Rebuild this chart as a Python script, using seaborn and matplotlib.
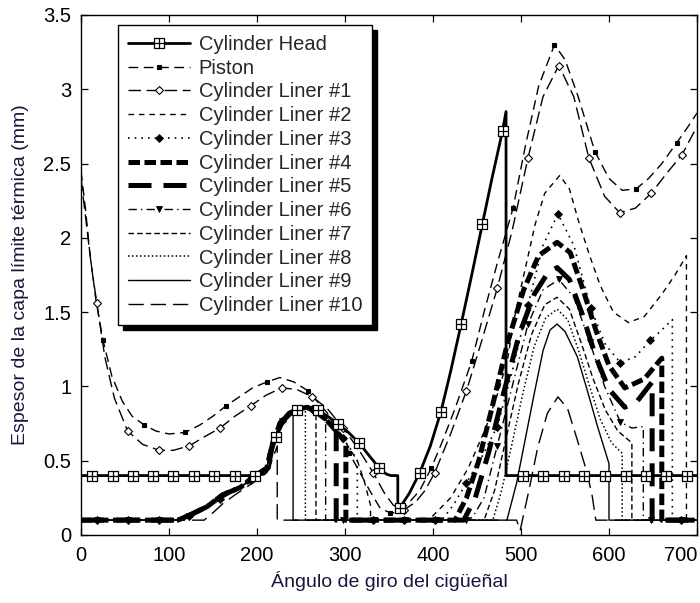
import numpy as np
import matplotlib
matplotlib.use("Agg")
import matplotlib.pyplot as plt
from matplotlib.path import Path
import seaborn as sns

# ---------------- data ----------------
x_ticks = [0, 100, 200, 300, 400, 500, 600, 700]
y_ticks = [0, 0.5, 1, 1.5, 2, 2.5, 3, 3.5]
y_tick_labels = ["0", "0.5", "1", "1.5", "2", "2.5", "3", "3.5"]

head_x = [0, 13, 36, 59, 82, 105, 128, 151, 175, 198,
          208, 214, 218, 222, 230, 238, 245, 257, 269, 280, 292, 304, 316, 328,
          339, 347, 352, 360, 360, 362, 373, 385, 397, 409, 420, 432, 444, 456,
          467, 479, 483, 483,
          502, 525, 549, 572, 595, 619, 642, 665, 689, 700]
head_y = [0.4, 0.4, 0.4, 0.4, 0.4, 0.4, 0.4, 0.4, 0.4, 0.4,
          0.41, 0.45, 0.58, 0.66, 0.76, 0.81, 0.84, 0.86, 0.84, 0.80, 0.75, 0.69, 0.62, 0.53,
          0.45, 0.41, 0.40, 0.40, 0.17, 0.18, 0.28, 0.42, 0.6, 0.83, 1.1, 1.42, 1.75, 2.09,
          2.4, 2.72, 2.85, 0.4,
          0.4, 0.4, 0.4, 0.4, 0.4, 0.4, 0.4, 0.4, 0.4, 0.4]
head_markers_at = [13, 36, 59, 82, 105, 128, 151, 175, 198, 222, 245, 269, 292, 316,
                   339, 362, 385, 409, 432, 456, 479, 502, 525, 549, 572, 595, 619,
                   642, 665, 689]

piston_x = [0, 5, 10, 17, 25, 35, 47, 58, 72, 85, 100, 118, 135, 150, 165, 180, 195,
            211, 226, 242, 258, 280, 305, 328, 340, 351, 360, 370, 385, 398, 410, 425,
            444, 458, 474, 491, 505, 520, 538, 550, 565, 584, 600, 615, 631, 645, 660,
            677, 690, 700]
piston_y = [2.45, 2.2, 1.9, 1.58, 1.31, 1.07, 0.9, 0.8, 0.74, 0.70, 0.68, 0.69, 0.74,
            0.8, 0.87, 0.93, 0.99, 1.03, 1.06, 1.03, 0.97, 0.82, 0.55, 0.3, 0.18, 0.15,
            0.15, 0.2, 0.3, 0.45, 0.62, 0.85, 1.17, 1.5, 1.85, 2.2, 2.62, 3.02, 3.30,
            3.2, 2.95, 2.58, 2.4, 2.32, 2.33, 2.4, 2.5, 2.64, 2.75, 2.84]
piston_markers_at = [25, 72, 118, 165, 211, 258, 305, 351, 398, 444, 491, 538, 584,
                     631, 677]

liner1_x = [0, 6, 12, 18, 27, 38, 53, 70, 89, 105, 123, 140, 158, 175, 193, 210, 228,
            245, 263, 280, 298, 315, 332, 345, 355, 367, 380, 391, 402, 420, 438, 455,
            473, 490, 508, 525, 543, 560, 577, 595, 612, 630, 648, 665, 683, 700]
liner1_y = [2.4, 2.1, 1.8, 1.56, 1.2, 0.92, 0.7, 0.61, 0.57, 0.57, 0.6, 0.66, 0.72,
            0.8, 0.87, 0.94, 0.99, 0.98, 0.93, 0.85, 0.72, 0.58, 0.42, 0.28, 0.2, 0.17,
            0.22, 0.3, 0.42, 0.68, 0.97, 1.3, 1.66, 2.05, 2.54, 2.95, 3.16, 2.95, 2.54,
            2.28, 2.17, 2.2, 2.3, 2.43, 2.56, 2.75]
liner1_markers_at = [18, 53, 89, 123, 158, 193, 228, 263, 298, 332, 367, 402, 438,
                     473, 508, 543, 577, 612, 648, 683]

liner2_x = [0, 110, 124, 143, 161, 181, 196, 211, 218, 226, 237, 249, 257, 267, 278,
            290, 301, 314, 322, 329, 329, 395, 420, 440, 460, 475, 485, 491, 499, 507,
            516, 527, 544, 555, 565, 578, 590, 605, 622, 640, 660, 675, 688, 688, 700]
liner2_y = [0.1, 0.1, 0.135, 0.19, 0.27, 0.32, 0.39, 0.45, 0.62, 0.75, 0.82, 0.85, 0.86,
            0.83, 0.78, 0.7, 0.62, 0.5, 0.36, 0.2, 0.1, 0.1, 0.25, 0.45, 0.72, 0.98,
            1.19, 1.42, 1.64, 1.85, 2.09, 2.3, 2.42, 2.33, 2.12, 1.88, 1.68, 1.5, 1.43,
            1.47, 1.62, 1.75, 1.88, 0.1, 0.1]

liner3_x = [0, 18, 53, 89, 110, 123, 143, 158, 181, 193, 211, 218, 228, 237, 249, 257,
            263, 278, 290, 298, 306, 314, 314, 332, 367, 402, 410, 423, 438, 455, 473,
            490, 508, 525, 542, 560, 579, 596, 613, 630, 647, 660, 672, 672, 682, 700]
liner3_y = [0.1, 0.1, 0.1, 0.1, 0.1, 0.13, 0.19, 0.24, 0.32, 0.37, 0.45, 0.62, 0.77,
            0.82, 0.85, 0.86, 0.85, 0.78, 0.7, 0.65, 0.58, 0.5, 0.1, 0.1, 0.1, 0.1, 0.1,
            0.2, 0.35, 0.52, 0.73, 1.1, 1.55, 1.95, 2.16, 1.95, 1.53, 1.28, 1.16, 1.2,
            1.31, 1.38, 1.45, 0.1, 0.1, 0.1]
liner3_markers_at = [18, 53, 89, 123, 158, 193, 228, 263, 298, 332, 367, 402, 438, 473,
                     508, 542, 579, 613, 647, 682]

liner4_x = [0, 110, 124, 143, 161, 181, 196, 211, 218, 226, 237, 249, 257, 267, 278,
            290, 301, 301, 425, 438, 452, 468, 485, 503, 520, 541, 556, 570, 585, 600,
            618, 640, 660, 660, 700]
liner4_y = [0.1, 0.1, 0.135, 0.19, 0.27, 0.32, 0.39, 0.45, 0.62, 0.75, 0.82, 0.85, 0.86,
            0.83, 0.78, 0.7, 0.62, 0.1, 0.1, 0.25, 0.5, 0.88, 1.3, 1.65, 1.88, 1.97, 1.9,
            1.66, 1.38, 1.14, 0.99, 1.05, 1.19, 0.1, 0.1]

liner5_x = [0, 110, 124, 143, 161, 181, 196, 211, 218, 226, 237, 249, 257, 267, 278,
            290, 290, 435, 448, 463, 480, 498, 515, 530, 541, 555, 570, 585, 600, 618,
            632, 649, 649, 700]
liner5_y = [0.1, 0.1, 0.135, 0.19, 0.27, 0.32, 0.39, 0.45, 0.62, 0.75, 0.82, 0.85, 0.86,
            0.83, 0.78, 0.7, 0.1, 0.1, 0.25, 0.55, 0.95, 1.35, 1.62, 1.76, 1.8, 1.72,
            1.48, 1.2, 0.98, 0.86, 0.9, 1.03, 0.1, 0.1]

liner6_x = [0, 18, 53, 89, 110, 123, 143, 158, 181, 193, 211, 218, 228, 237, 249, 257,
            263, 270, 278, 278, 298, 333, 368, 403, 438, 445, 458, 473, 490, 508, 525,
            543, 560, 578, 595, 613, 626, 639, 639, 648, 683, 700]
liner6_y = [0.1, 0.1, 0.1, 0.1, 0.1, 0.13, 0.19, 0.24, 0.32, 0.37, 0.45, 0.62, 0.77,
            0.82, 0.85, 0.86, 0.85, 0.82, 0.78, 0.1, 0.1, 0.1, 0.1, 0.1, 0.1, 0.12, 0.25,
            0.6, 1.0, 1.42, 1.65, 1.72, 1.6, 1.3, 1.0, 0.76, 0.72, 0.73, 0.1, 0.1, 0.1,
            0.1]
liner6_markers_at = [18, 53, 89, 123, 158, 193, 228, 263, 298, 333, 368, 403, 438, 473,
                     508, 543, 578, 613, 648, 683]

liner7_x = [0, 110, 124, 143, 161, 181, 196, 211, 218, 226, 237, 249, 257, 267, 267,
            458, 470, 483, 497, 512, 527, 541, 555, 568, 582, 596, 610, 626, 626, 700]
liner7_y = [0.1, 0.1, 0.135, 0.19, 0.27, 0.32, 0.39, 0.45, 0.62, 0.75, 0.82, 0.85, 0.86,
            0.83, 0.1, 0.1, 0.3, 0.65, 1.02, 1.35, 1.55, 1.6, 1.52, 1.3, 1.05, 0.84, 0.7,
            0.62, 0.1, 0.1]

liner8_x = [0, 110, 124, 143, 161, 181, 196, 211, 218, 226, 237, 249, 255, 255, 468,
            478, 490, 502, 515, 528, 541, 553, 565, 578, 590, 603, 615, 615, 700]
liner8_y = [0.1, 0.1, 0.135, 0.19, 0.27, 0.32, 0.39, 0.45, 0.62, 0.75, 0.82, 0.85, 0.86,
            0.1, 0.1, 0.3, 0.62, 0.95, 1.27, 1.46, 1.52, 1.45, 1.25, 1.0, 0.78, 0.62,
            0.55, 0.1, 0.1]

liner9_x = [0, 110, 124, 143, 161, 181, 196, 211, 218, 226, 234, 241, 241, 484, 495,
            505, 515, 525, 533, 541, 550, 564, 575, 587, 600, 600, 700]
liner9_y = [0.1, 0.1, 0.135, 0.19, 0.27, 0.32, 0.39, 0.45, 0.62, 0.75, 0.8, 0.82, 0.1,
            0.1, 0.35, 0.65, 0.95, 1.24, 1.38, 1.42, 1.37, 1.2, 0.98, 0.73, 0.48, 0.1,
            0.1]

liner10_x = [0, 140, 150, 161, 175, 190, 200, 211, 217, 223, 223, 495, 499, 509, 519,
             530, 542, 553, 565, 575, 581, 585, 700]
liner10_y = [0.1, 0.1, 0.15, 0.21, 0.27, 0.33, 0.37, 0.42, 0.5, 0.6, 0.1, 0.1, 0.03,
             0.3, 0.59, 0.82, 0.93, 0.85, 0.62, 0.42, 0.26, 0.1, 0.1]

labels = ["Cylinder Head", "Piston", "Cylinder Liner #1", "Cylinder Liner #2",
          "Cylinder Liner #3", "Cylinder Liner #4", "Cylinder Liner #5",
          "Cylinder Liner #6", "Cylinder Liner #7", "Cylinder Liner #8",
          "Cylinder Liner #9", "Cylinder Liner #10"]

# ---------------- style ----------------
sns.set_theme(style="white")
plt.rcParams["font.family"] = ["Liberation Sans", "DejaVu Sans"]
plt.rcParams.update({
    "xtick.direction": "in", "ytick.direction": "in",
    "xtick.top": True, "ytick.right": True,
    "xtick.bottom": True, "ytick.left": True,
    "xtick.major.size": 5, "ytick.major.size": 5,
    "xtick.major.width": 0.9, "ytick.major.width": 0.9,
    "xtick.color": "black", "ytick.color": "black",
    "axes.edgecolor": "black", "axes.linewidth": 1.0,
})

# square-with-cross marker
box_plus = Path(
    [(-1, -1), (1, -1), (1, 1), (-1, 1), (-1, -1), (0, -1), (0, 1), (-1, 0), (1, 0)],
    [Path.MOVETO, Path.LINETO, Path.LINETO, Path.LINETO, Path.CLOSEPOLY,
     Path.MOVETO, Path.LINETO, Path.MOVETO, Path.LINETO])

series = [
    (head_x, head_y, dict(lw=2.0, ls="-", marker=box_plus, ms=7, mfc="white",
                           mew=0.9), head_markers_at, 10),
    (piston_x, piston_y, dict(lw=1.0, ls=(0, (7, 4)), marker="s", ms=3.2, mfc="black",
                               mew=0.8), piston_markers_at, 8),
    (liner1_x, liner1_y, dict(lw=1.0, ls=(0, (9, 4)), marker="D", ms=4, mfc="white",
                               mew=0.8), liner1_markers_at, 8),
    (liner2_x, liner2_y, dict(lw=1.0, ls=(0, (4, 3.5))), None, 5),
    (liner3_x, liner3_y, dict(lw=1.2, ls=(0, (1, 3)), marker="D", ms=4.5, mfc="black",
                               mew=0.6), liner3_markers_at, 5),
    (liner4_x, liner4_y, dict(lw=3.6, ls=(0, (2.3, 0.9))), None, 5),
    (liner5_x, liner5_y, dict(lw=3.6, ls=(0, (4.6, 2.4))), None, 5),
    (liner6_x, liner6_y, dict(lw=1.0, ls=(0, (6, 3, 1, 3)), marker="v", ms=5,
                               mfc="black", mew=0.6), liner6_markers_at, 5),
    (liner7_x, liner7_y, dict(lw=1.0, ls=(0, (4, 2.2))), None, 5),
    (liner8_x, liner8_y, dict(lw=1.1, ls=(0, (1, 1.6))), None, 5),
    (liner9_x, liner9_y, dict(lw=1.0, ls="-"), None, 5),
    (liner10_x, liner10_y, dict(lw=1.0, ls=(0, (11, 5))), None, 5),
]

fig = plt.figure(figsize=(7, 6.03), dpi=100)
ax = fig.add_axes([81 / 700, 68 / 603, 616 / 700, 520 / 603])

for (xs, ys, st, mk_at, z), lab in zip(series, labels):
    kws = dict(color="black", linewidth=st["lw"], linestyle=st["ls"], zorder=z,
               label=lab)
    if "marker" in st:
        kws.update(marker=st["marker"], markersize=st["ms"],
                   markerfacecolor=st["mfc"], markeredgecolor="black",
                   markeredgewidth=st["mew"],
                   markevery=list(np.isin(xs, mk_at) &
                                  np.r_[True, np.diff(xs) != 0]))
    sns.lineplot(x=xs, y=ys, ax=ax, sort=False, estimator=None, **kws)

ax.set_xlim(0, 700)
ax.set_ylim(0, 3.5)
ax.set_xticks(x_ticks)
ax.set_xticklabels([str(v) for v in x_ticks])
ax.set_yticks(y_ticks)
ax.set_yticklabels(y_tick_labels)
ax.tick_params(axis="both", labelsize=14.5, pad=8)
ax.tick_params(axis="y", pad=7)
# keep the last x tick label inside the figure
ax.get_xticklabels()[-1].set_horizontalalignment("right")

label_color = "#17173f"
ax.set_xlabel("Ángulo de giro del cigüeñal", fontsize=14, color=label_color,
              labelpad=4)
ax.set_ylabel("Espesor de la capa límite térmica (mm)", fontsize=14,
              color=label_color, labelpad=10)

for sp in ax.spines.values():
    sp.set_visible(True)
    sp.set_color("black")
    sp.set_linewidth(1.0)

leg = ax.legend(loc="upper left", bbox_to_anchor=(0.06, 0.981), borderaxespad=0,
                fontsize=14.5, handlelength=3.1, handletextpad=0.4,
                labelspacing=0.235, borderpad=0.5, numpoints=1, fancybox=False,
                framealpha=1, edgecolor="black",
                shadow={"ox": 3.5, "oy": -3.5, "facecolor": "black",
                        "edgecolor": "black", "alpha": 1})
leg.get_frame().set_linewidth(1.0)
leg.set_zorder(20)

fig.savefig("out.png", dpi=100)
